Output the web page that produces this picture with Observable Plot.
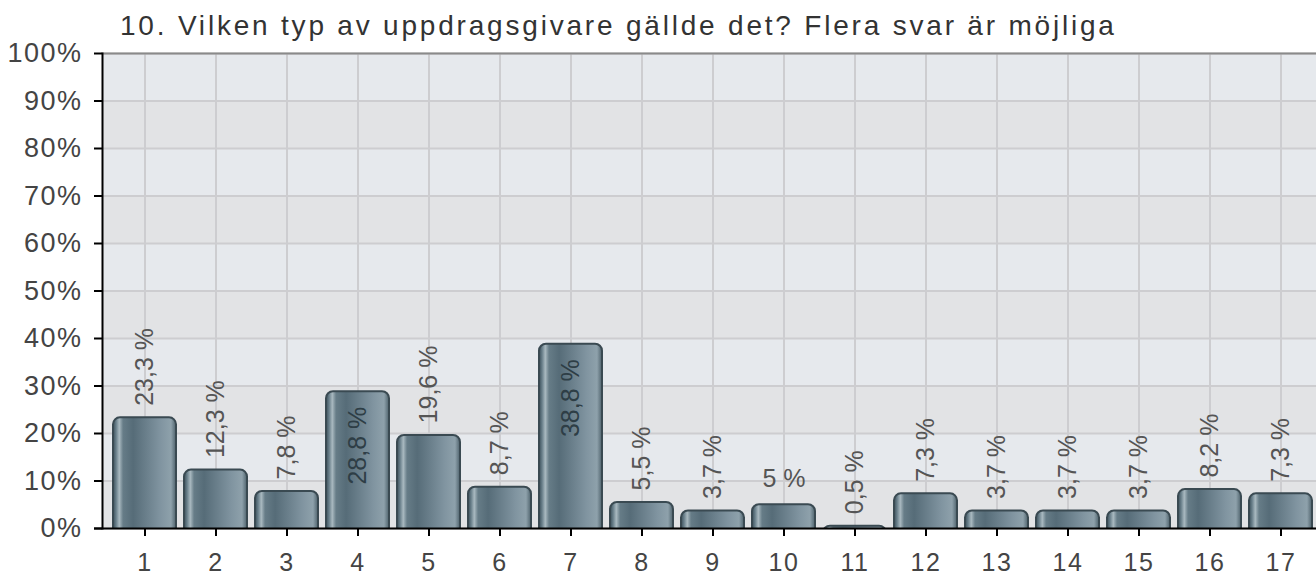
<!DOCTYPE html>
<html>
<head>
<meta charset="utf-8">
<script src="https://cdn.jsdelivr.net/npm/d3@7"></script>
<script src="https://cdn.jsdelivr.net/npm/@observablehq/plot@0.6"></script>
<style>
  html, body { margin: 0; padding: 0; background: #fff; overflow: hidden; width: 1316px; height: 574px; }
  #title { height: 44px; box-sizing: border-box; padding-top: 12px; padding-left: 120px; line-height: 28px;
    font-family: "Liberation Sans", Arial, sans-serif; font-size: 28px; letter-spacing: 2.8px; color: #333; white-space: nowrap; }
  #chart svg { max-width: none !important; display: block; }
</style>
</head>
<body>
<div id="title">10. Vilken typ av uppdragsgivare gällde det? Flera svar är möjliga</div>
<div id="chart"></div>
<script>
const categories = ["1","2","3","4","5","6","7","8","9","10","11","12","13","14","15","16","17"];
const values = [23.3, 12.3, 7.8, 28.8, 19.6, 8.7, 38.8, 5.5, 3.7, 5, 0.5, 7.3, 3.7, 3.7, 3.7, 8.2, 7.3];
const valueLabels = ["23,3 %","12,3 %","7,8 %","28,8 %","19,6 %","8,7 %","38,8 %","5,5 %","3,7 %","5 %","0,5 %","7,3 %","3,7 %","3,7 %","3,7 %","8,2 %","7,3 %"];
const yTicks = [0,10,20,30,40,50,60,70,80,90,100];

const data = categories.map((c, i) => ({cat: c, value: values[i], label: valueLabels[i]}));
const bands = yTicks.slice(0, -1).map((t, i) => ({lo: t, hi: yTicks[i + 1], k: i % 2}));

const rotatedAbove = data.filter(d => d.label.length > 3 && d.value <= 25);
const rotatedInside = data.filter(d => d.label.length > 3 && d.value > 25);
const flat = data.filter(d => d.label.length <= 3);

const font = "'Liberation Sans', Arial, sans-serif";

const chart = Plot.plot({
  width: 1330,
  height: 530,
  marginTop: 9,
  marginBottom: 46,
  marginLeft: 102,
  marginRight: 6,
  style: {fontFamily: font, background: "transparent", overflow: "visible", maxWidth: "none"},
  x: {type: "band", domain: categories, paddingInner: 0.11, paddingOuter: 0.14, label: null},
  y: {domain: [0, 100], label: null},
  marks: [
    Plot.rect(bands, {y1: "lo", y2: "hi", fill: d => d.k ? "#e6e9ed" : "#e2e3e5"}),
    Plot.gridY(yTicks, {stroke: "#cdcdd0", strokeOpacity: 1, strokeWidth: 2}),
    Plot.gridX(categories, {stroke: "#cdcdd0", strokeOpacity: 1, strokeWidth: 2}),
    Plot.barY(data, {x: "cat", y: "value", fill: "url(#barGrad)", stroke: "#3a4a52", strokeWidth: 2, rx: 7, insetBottom: -12, clip: true}),
    Plot.text(rotatedAbove, {x: "cat", y: "value", text: "label", rotate: -90, textAnchor: "start", dy: -12,
      fontSize: 25, fill: "#555", style: "letter-spacing:1.5px"}),
    Plot.text(rotatedInside, {x: "cat", y: "value", text: "label", rotate: -90, textAnchor: "end", dy: 15,
      fontSize: 25, fill: "#2e3e46", style: "letter-spacing:1.5px"}),
    Plot.text(flat, {x: "cat", y: "value", text: "label", textAnchor: "middle", lineAnchor: "bottom", dy: -18,
      fontSize: 25, fill: "#555", style: "letter-spacing:1.5px"}),
    Plot.ruleY([100], {stroke: "#8a8a8a", strokeWidth: 2}),
    Plot.ruleY([0], {stroke: "#000", strokeWidth: 2, insetLeft: -8}),
    Plot.frame({anchor: "left", stroke: "#000", strokeWidth: 2}),
    Plot.axisY(yTicks, {tickFormat: d => d + "%", tickSize: 8, tickPadding: 12, fontSize: 27, color: "#444", stroke: "#000", strokeWidth: 2}),
    Plot.axisX(categories, {tickSize: 8, tickPadding: 17, fontSize: 25, color: "#444", stroke: "#000", strokeWidth: 2})
  ]
});

chart.insertAdjacentHTML("afterbegin", `
<defs>
  <linearGradient id="barGrad" x1="0" y1="0" x2="1" y2="0">
    <stop offset="0" stop-color="#3a4e59"/>
    <stop offset="0.05" stop-color="#6a808b"/>
    <stop offset="0.10" stop-color="#a9b9c0"/>
    <stop offset="0.16" stop-color="#667c87"/>
    <stop offset="0.32" stop-color="#566c78"/>
    <stop offset="0.75" stop-color="#8094a0"/>
    <stop offset="0.92" stop-color="#8ea1ab"/>
    <stop offset="1" stop-color="#4e626c"/>
  </linearGradient>
</defs>`);
chart.querySelectorAll("[aria-label='y-axis tick label'] text, [aria-label='x-axis tick label'] text").forEach(t => t.style.letterSpacing = "1.5px");
document.getElementById("chart").appendChild(chart);
</script>
</body>
</html>
